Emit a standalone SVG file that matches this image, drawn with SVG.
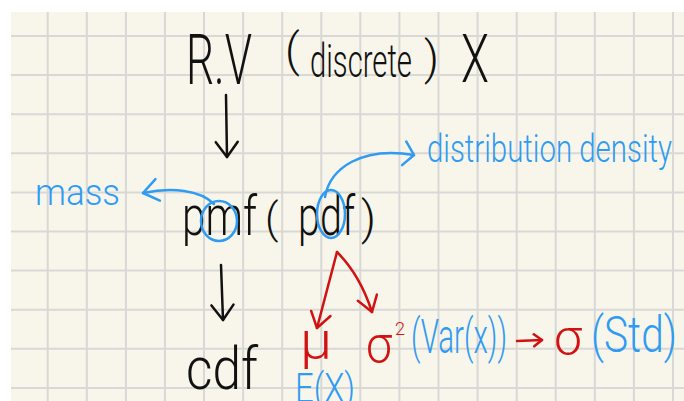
<svg xmlns="http://www.w3.org/2000/svg" width="684" height="401" viewBox="0 0 684 401">
<defs>
<style>
.k{fill:#111;font-family:Roboto,"Liberation Sans",sans-serif;font-weight:300}
.b{fill:#2f9bf2;font-family:Roboto,"Liberation Sans",sans-serif;font-weight:300}
.r{fill:#d01212;font-family:Roboto,"Liberation Sans",sans-serif;font-weight:300}
.ck{fill:none;stroke:#111;stroke-width:2.5;stroke-linecap:round;stroke-linejoin:round}
.cb{fill:none;stroke:#2f9bf2;stroke-width:2.5;stroke-linecap:round;stroke-linejoin:round}
.cr{fill:none;stroke:#d01212;stroke-width:2.5;stroke-linecap:round;stroke-linejoin:round}
.grid{fill:none;stroke:#d8d8d6;stroke-width:2}
</style>
<marker id="mk" viewBox="-17 -13 19 26" refX="0" refY="0" markerWidth="19" markerHeight="26" markerUnits="userSpaceOnUse" orient="auto"><path d="M-15,-11 L0,0 L-15,11" class="ck"/></marker>
<marker id="mb" viewBox="-17 -13 19 26" refX="0" refY="0" markerWidth="19" markerHeight="26" markerUnits="userSpaceOnUse" orient="auto"><path d="M-15,-11 L0,0 L-15,11" class="cb"/></marker>
<marker id="mb2" viewBox="-13 -14 15 28" refX="0" refY="0" markerWidth="15" markerHeight="28" markerUnits="userSpaceOnUse" orient="auto"><path d="M-10,-12 L0,0 L-10,12" class="cb"/></marker>
<marker id="mr" viewBox="-17 -13 19 26" refX="0" refY="0" markerWidth="19" markerHeight="26" markerUnits="userSpaceOnUse" orient="auto"><path d="M-15,-10 L0,0 L-15,10" class="cr"/></marker>
<marker id="mr2" viewBox="-10 -8 12 16" refX="0" refY="0" markerWidth="12" markerHeight="16" markerUnits="userSpaceOnUse" orient="auto"><path d="M-8,-6 L0,0 L-8,6" class="cr"/></marker>
</defs>
<rect x="0" y="0" width="684" height="401" fill="#ffffff"/>
<rect x="11" y="12" width="673" height="389" fill="#f8f6ea"/>
<path class="grid" d="M47.7 12V401M86.8 12V401M125.9 12V401M164.9 12V401M204 12V401M243.1 12V401M282.2 12V401M321.3 12V401M360.3 12V401M399.4 12V401M438.5 12V401M477.6 12V401M516.7 12V401M555.7 12V401M594.8 12V401M633.9 12V401M673 12V401M11 36H684M11 75.1H684M11 114.2H684M11 153.3H684M11 192.4H684M11 231.5H684M11 270.6H684M11 309.7H684M11 348.8H684M11 387.9H684"/>

<g id="rv">
<text class="k" x="186" y="84" font-size="70" textLength="66" lengthAdjust="spacingAndGlyphs">R.V</text>
<text class="k" x="285" y="66" font-size="46">(</text>
<text class="k" x="310" y="77" font-size="46" textLength="102" lengthAdjust="spacingAndGlyphs">discrete</text>
<text class="k" x="424" y="74" font-size="46">)</text>
<text class="k" x="461" y="82" font-size="66" textLength="28" lengthAdjust="spacingAndGlyphs">X</text>
</g>

<g id="pmf-pdf">
<text class="k" x="182" y="235" font-size="56" textLength="75" lengthAdjust="spacingAndGlyphs">pmf</text>
<text class="k" x="265" y="233" font-size="42">(</text>
<text class="k" x="298" y="235" font-size="56" textLength="57" lengthAdjust="spacingAndGlyphs">pdf</text>
<text class="k" x="361" y="234" font-size="46">)</text>
<ellipse class="cb" cx="219" cy="221" rx="18" ry="20"/>
<ellipse class="cb" cx="331" cy="214" rx="14" ry="24"/>
</g>

<g id="mass">
<text class="b" x="35" y="205" font-size="36" textLength="85" lengthAdjust="spacingAndGlyphs">mass</text>
</g>

<g id="density">
<text class="b" x="427" y="162" font-size="38" textLength="245" lengthAdjust="spacingAndGlyphs">distribution density</text>
</g>

<g id="cdf">
<text class="k" x="186" y="389" font-size="60" textLength="72" lengthAdjust="spacingAndGlyphs">cdf</text>
</g>

<g id="mu">
<text class="r" x="300" y="358" font-size="52" textLength="32" lengthAdjust="spacingAndGlyphs">μ</text>
</g>

<g id="ex">
<text class="b" x="295" y="402" font-size="40" textLength="60" lengthAdjust="spacingAndGlyphs">E(X)</text>
</g>

<g id="sigma2">
<text class="r" x="366" y="362" font-size="52" textLength="26" lengthAdjust="spacingAndGlyphs">σ</text>
<text class="r" x="395" y="335" font-size="18">2</text>
</g>

<g id="var">
<text class="b" x="411" y="353" font-size="49" textLength="96" lengthAdjust="spacingAndGlyphs">(Var(x))</text>
</g>

<g id="sigma">
<text class="r" x="554" y="355" font-size="50" textLength="28" lengthAdjust="spacingAndGlyphs">σ</text>
</g>

<g id="std">
<text class="b" x="591" y="352" font-size="50" textLength="86" lengthAdjust="spacingAndGlyphs">(Std)</text>
</g>

<g id="connectors">
<path class="ck" d="M226 95 L227 157" marker-end="url(#mk)"/>
<path class="ck" d="M221 265 L223 320" marker-end="url(#mk)"/>
<path class="cb" d="M214 204 C200 190 172 187 143 193" marker-end="url(#mb)"/>
<path class="cb" d="M325 197 C330 168 362 146 414 155" marker-end="url(#mb2)"/>
<path class="cr" d="M337 252 L317 328" marker-end="url(#mr)"/>
<path class="cr" d="M337 252 Q360 275 372 312" marker-end="url(#mr)"/>
<path class="cr" d="M517 341 L542 340" marker-end="url(#mr2)"/>
</g>
</svg>
